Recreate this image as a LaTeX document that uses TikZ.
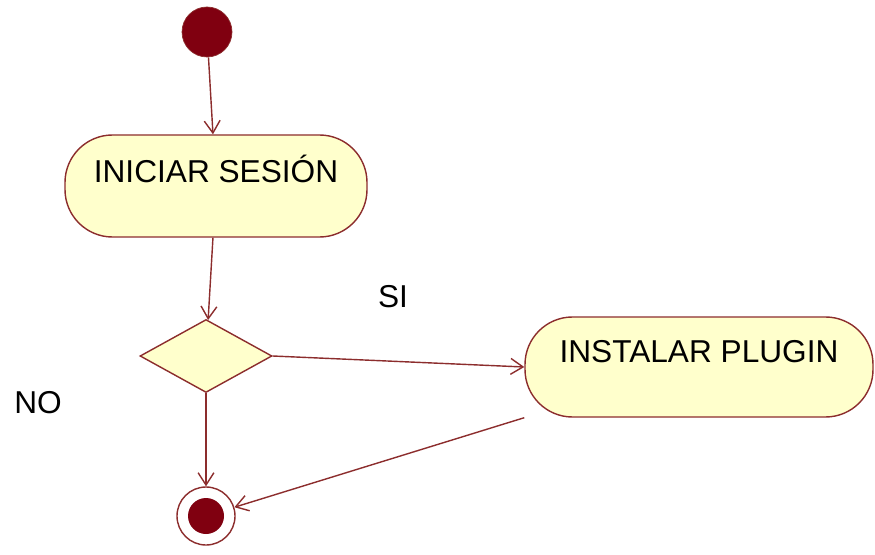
\documentclass[tikz,border=0pt]{standalone}
\usepackage{fontspec}
\setmainfont{Liberation Sans}
\usetikzlibrary{shapes.geometric, arrows.meta}
\definecolor{umlred}{RGB}{128,0,16}
\definecolor{umlline}{RGB}{140,45,45}
\definecolor{umlfill}{RGB}{255,255,204}
\tikzset{
  activity/.style={draw=umlline, fill=umlfill, line width=0.8pt, rectangle, rounded corners=0.95cm, inner xsep=0pt, inner ysep=0pt, font=\fontsize{18}{21}\selectfont},
  flow/.style={draw=umlline, line width=0.8pt, >={Straight Barb[length=7pt,width=9pt]}}
}

\begin{document}
\begin{tikzpicture}
				\useasboundingbox (0,0) rectangle (17.5,11.08);
				\node[circle, fill=umlred, draw=umlline, minimum size=1cm, inner sep=0pt] (start)at(4.14, 10.44) {};
				\node[activity, minimum width=6.04cm, text height=0.96cm, text depth=1.08cm] (iniciar)at(4.32, 7.36) {INICIAR SESIÓN};
				\node[diamond, draw=umlline, fill=umlfill, line width=0.8pt, aspect=1.8, minimum width=2.64cm, minimum height=1.46cm, inner sep=0pt] (decision)at(4.12, 3.96) {};
				\node[activity, minimum width=6.96cm, text height=0.9cm, text depth=1.1cm] (instalar)at(13.98, 3.74) {INSTALAR PLUGIN};
				\node[circle, draw=umlline, fill=white, line width=0.8pt, minimum size=1.16cm, inner sep=0pt] (final)at(4.12, 0.76) {};
				\node[circle, fill=umlred, minimum size=0.72cm, inner sep=0pt] (finalin)at(final.center) {};
				\node[font=\fontsize{18}{21}\selectfont] (si)at(7.86, 5.14) {SI};
				\node[font=\fontsize{18}{21}\selectfont] (no)at(0.76, 3.02) {NO};
				\draw[->, flow] (start) -- (iniciar);
				\draw[->, flow] (iniciar) -- (decision);
				\draw[->, flow] (decision.east) -- (instalar.west);
				\draw[->, flow] (decision.south) -- (final.north);
				\draw[->, flow] (instalar.south west) -- (final);
			\end{tikzpicture}
\end{document}
